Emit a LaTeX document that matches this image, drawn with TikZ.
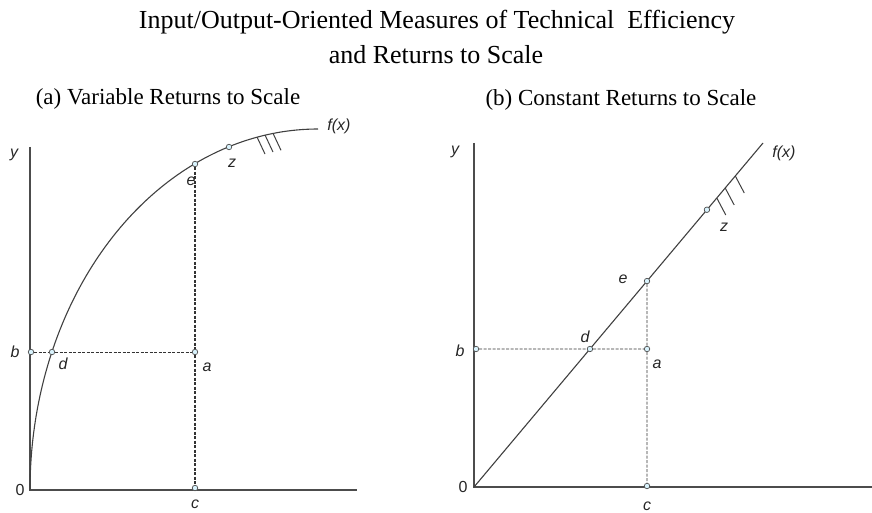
\documentclass[tikz,border=0pt]{standalone}
\usepackage{fontspec}
\setmainfont{Liberation Serif}
\newfontfamily\labfont{Liberation Sans}
\usetikzlibrary{calc}
\begin{document}
\begin{tikzpicture}[x=1pt,y=-1pt,
 axis/.style={draw=black!70, line width=1.8pt},
 curve/.style={draw=black!75, line width=1.1pt},
 pt/.style={circle, draw=black!70, fill=cyan!15, line width=0.7pt, inner sep=0pt, minimum size=5.5pt},
 lab/.style={font=\labfont\itshape\fontsize{16}{16}\selectfont, text=black!85, inner sep=0pt},
 zerolab/.style={font=\labfont\fontsize{16}{16}\selectfont, text=black!85, inner sep=0pt},
 thindash/.style={draw=black!80, line width=0.9pt, dash pattern=on 3pt off 1.5pt},
 thickdash/.style={draw=black!80, line width=2pt, dash pattern=on 3pt off 1.5pt},
 hatch/.style={draw=black!75, line width=1pt},
 ttl/.style={font=\fontsize{26}{30}\selectfont, inner sep=0pt},
 sub/.style={font=\fontsize{23}{26}\selectfont, inner sep=0pt}]
\useasboundingbox (0,0) rectangle (872,513);

% titles
\node[ttl] (t1) at (437,22) {Input/Output-Oriented Measures of Technical\ \ Efficiency};
\node[ttl] (t2) at (436,55) {and Returns to Scale};
\node[sub] (sa) at (168,99) {(a) Variable Returns to Scale};
\node[sub] (sb) at (621,100) {(b) Constant Returns to Scale};

% ---------- panel (a)
\coordinate (Oa) at (30,490);
\coordinate (Ya) at (30,147);
\coordinate (Xa) at (357,490);
\draw[axis] (Ya) -- (Oa) -- (Xa);
\draw[curve] plot[domain=180:90, samples=90] ({318+288*cos(\x)},{490-361*sin(\x)});
\coordinate (h1a) at (257,137);
\coordinate (h2a) at (265,135);
\coordinate (h3a) at (273,133.3);
\foreach \h in {h1a,h2a,h3a} \draw[hatch] (\h) -- ++(8,17);

\node[pt] (ba) at (31,352) {};
\node[pt] (da) at (52,352) {};
\node[pt] (aa) at (195,352) {};
\node[pt] (ea) at (195,164) {};
\node[pt] (za) at (229,147) {};
\node[pt] (ca) at (195,488) {};
\draw[thindash] (ba) -- (da) -- (aa);
\draw[thickdash] (ea) -- (aa) -- (ca);

\node[lab] (ya) at (14,155) {y};
\node[lab] (lba) at (15,352) {b};
\node[lab] (lda) at (63,364) {d};
\node[lab] (laa) at (207,367) {a};
\node[lab] (lea) at (191,181) {e};
\node[lab] (lza) at (232,163) {z};
\node[lab] (lfa) at (339,126) {f(x)};
\node[zerolab] (l0a) at (20,490) {0};
\node[lab] (lca) at (195,504) {c};

% ---------- panel (b)
\coordinate (Ob) at (474,487);
\coordinate (Yb) at (474,143);
\coordinate (Xb) at (872,487);
\coordinate (Tb) at (763,143);
\draw[axis] (Yb) -- (Ob) -- (Xb);
\draw[curve] (Ob) -- (Tb);
\coordinate (h1b) at ($(Ob)!0.8401!(Tb)$);
\coordinate (h2b) at ($(Ob)!0.8692!(Tb)$);
\coordinate (h3b) at ($(Ob)!0.9041!(Tb)$);
\foreach \h in {h1b,h2b,h3b} \draw[hatch] (\h) -- ++(9,17);

\node[pt] (bb) at (476,349) {};
\node[pt] (db) at ($(Ob)!0.4012!(Tb)$) {};
\node[pt] (ab) at (647,349) {};
\node[pt] (eb) at ($(Ob)!0.5986!(Tb)$) {};
\node[pt] (zb) at ($(Ob)!0.806!(Tb)$) {};
\node[pt] (cb) at (647,486) {};
\draw[thindash] (bb) -- (db) -- (ab);
\draw[thindash] (eb) -- (ab) -- (cb);

\node[lab] (yb) at (455,152) {y};
\node[lab] (lbb) at (460,351) {b};
\node[lab] (ldb) at (585,337) {d};
\node[lab] (lab) at (657,364) {a};
\node[lab] (leb) at (623,279) {e};
\node[lab] (lzb) at (724,227) {z};
\node[lab] (lfb) at (784,153) {f(x)};
\node[zerolab] (l0b) at (463,487) {0};
\node[lab] (lcb) at (647,506) {c};
\end{tikzpicture}
\end{document}
